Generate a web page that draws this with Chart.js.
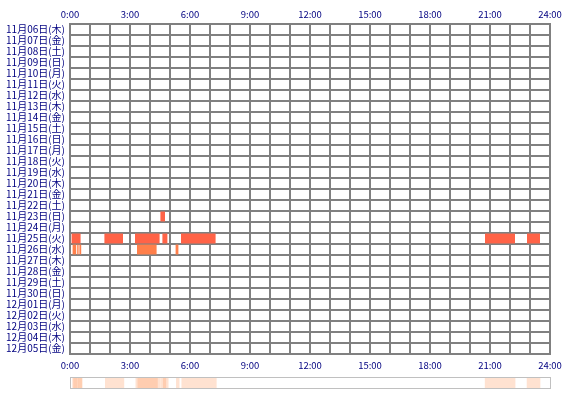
<!DOCTYPE html>
<html>
<head>
<meta charset="utf-8">
<script src="https://cdn.jsdelivr.net/npm/chart.js@4/dist/chart.umd.min.js"></script>
<style>
html,body{margin:0;padding:0;background:#fff;}
#wrap{position:relative;width:570px;height:400px;}
#main{position:absolute;left:0;top:0;}
#stripBox{position:absolute;left:70px;top:377px;width:479px;height:10px;border:1px solid #c0c0c0;background:#fff;}
#strip{position:absolute;left:0;top:0;}
</style>
</head>
<body>
<div id="wrap">
<canvas id="main" width="570" height="400"></canvas>
<div id="stripBox"><canvas id="strip" width="479" height="10"></canvas></div>
</div>
<script>
const dates = ['11月06日(木)','11月07日(金)','11月08日(土)','11月09日(日)','11月10日(月)','11月11日(火)','11月12日(水)','11月13日(木)','11月14日(金)','11月15日(土)','11月16日(日)','11月17日(月)','11月18日(火)','11月19日(水)','11月20日(木)','11月21日(金)','11月22日(土)','11月23日(日)','11月24日(月)','11月25日(火)','11月26日(水)','11月27日(木)','11月28日(金)','11月29日(土)','11月30日(日)','12月01日(月)','12月02日(火)','12月03日(水)','12月04日(木)','12月05日(金)'];
const hourTicks = ['0:00','3:00','6:00','9:00','12:00','15:00','18:00','21:00','24:00'];

const deepDays  = ['11月23日(日)','11月25日(火)','11月25日(火)','11月25日(火)','11月25日(火)','11月25日(火)','11月25日(火)','11月25日(火)'];
const deepStart = [4.52, 0.08, 1.72, 3.25, 4.62, 5.55, 20.75, 22.85];
const deepEnd   = [4.75, 0.53, 2.65, 4.48, 4.87, 7.28, 22.25, 23.5];

const lightDays  = ['11月26日(水)','11月26日(水)','11月26日(水)','11月26日(水)','11月26日(水)'];
const lightStart = [0.13, 0.36, 0.47, 3.35, 5.28];
const lightEnd   = [0.31, 0.43, 0.56, 4.33, 5.42];

const FONT = "'Noto Sans CJK JP', sans-serif";
const TXT = '#000080';
const GRID = '#808080';

function toBars(days, s, e){ return days.map((d,i)=>({y:d, x:[s[i], e[i]]})); }

new Chart(document.getElementById('main'), {
  type: 'bar',
  data: {
    labels: dates,
    datasets: [
      {data: toBars(deepDays, deepStart, deepEnd), backgroundColor: '#ff6347', xAxisID:'x', grouped:false, barPercentage:0.9, categoryPercentage:1},
      {data: toBars(lightDays, lightStart, lightEnd), backgroundColor: '#ff7f4a', xAxisID:'x', grouped:false, barPercentage:0.9, categoryPercentage:1}
    ]
  },
  options: {
    indexAxis: 'y',
    responsive: false,
    animation: false,
    layout: {padding: {left:0, right:20, top:0, bottom:0}},
    plugins: {legend:{display:false}, tooltip:{enabled:false}},
    scales: {
      x: {
        type:'linear', position:'top', min:0, max:24,
        afterFit: s => { s.height = 24; },
        grid: {color: GRID, lineWidth: 2, drawTicks:false},
        border: {display:true, color: GRID, width:2},
        ticks: {stepSize:1, autoSkip:false, maxRotation:0, padding:4, color:TXT, font:{family:FONT, size:9.5},
          callback: v => (v % 3 === 0 ? hourTicks[v/3] : '')}
      },
      x2: {
        type:'linear', position:'bottom', min:0, max:24,
        afterFit: s => { s.height = 46; },
        grid: {display:false, drawTicks:false},
        border: {display:false},
        ticks: {stepSize:1, autoSkip:false, maxRotation:0, padding:6, color:TXT, font:{family:FONT, size:9.5},
          callback: v => (v % 3 === 0 ? hourTicks[v/3] : '')}
      },
      y: {
        type:'category', offset:true,
        afterFit: s => { s.width = 70; },
        grid: {color: GRID, lineWidth:2, offset:true, drawTicks:false},
        border: {display:true, color: GRID, width:2},
        ticks: {padding:5, color:TXT, font:{family:FONT, size:10}, autoSkip:false}
      }
    }
  },
  plugins: [{
    id:'frame',
    afterDraw(c){
      const a=c.chartArea, ctx=c.ctx;
      ctx.save(); ctx.strokeStyle=GRID; ctx.lineWidth=2;
      ctx.strokeRect(a.left, a.top, a.right-a.left, a.bottom-a.top);
      ctx.restore();
    }
  }]
});

const allDays = deepDays.concat(lightDays).map(()=> 'all');
const allStart = deepStart.concat(lightStart);
const allEnd = deepEnd.concat(lightEnd);
new Chart(document.getElementById('strip'), {
  type:'bar',
  data: {
    labels:['all'],
    datasets: allStart.map((s,i)=>({data:[{y:allDays[i], x:[s, allEnd[i]]}], backgroundColor:'rgba(255,150,90,0.28)', grouped:false, barPercentage:1, categoryPercentage:1}))
  },
  options: {
    indexAxis:'y', responsive:false, animation:false,
    layout:{padding:0},
    plugins:{legend:{display:false}, tooltip:{enabled:false}},
    scales:{
      x:{type:'linear', min:0, max:24, display:false},
      y:{type:'category', display:false, offset:true}
    }
  }
});
</script>
</body>
</html>
